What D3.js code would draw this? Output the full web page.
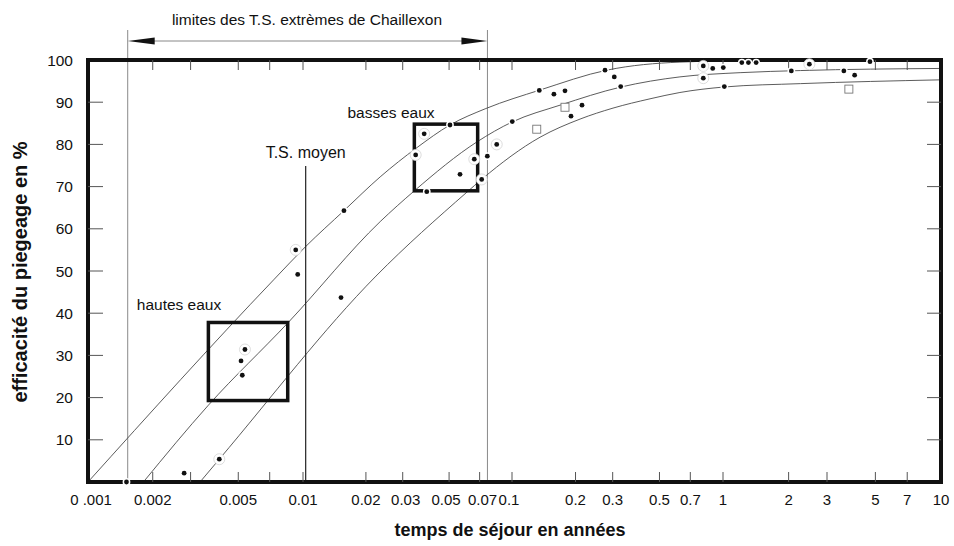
<!DOCTYPE html>
<html>
<head>
<meta charset="utf-8">
<script src="https://cdn.jsdelivr.net/npm/d3@7"></script>
<style>
  body { margin: 0; background: #fff; }
  svg text { font-family: "Liberation Sans", Arial, Helvetica, sans-serif; fill: #111; }
</style>
</head>
<body>
<div id="chart"></div>
<script>
// ---- data ----
const xTicks  = [0.001, 0.002, 0.003, 0.005, 0.007, 0.01, 0.02, 0.03, 0.05, 0.07, 0.1, 0.2, 0.3, 0.5, 0.7, 1, 2, 3, 5, 7, 10];
const xLabels = ["0 .001", "0.002", "", "0.005", "", "0.01", "0.02", "0.03", "0.05", "0.07", "0.1", "0.2", "0.3", "0.5", "0.7", "1", "2", "3", "5", "7", "10"];
const yTicks  = [10, 20, 30, 40, 50, 60, 70, 80, 90, 100];

// envelope curves (temps de séjour, % piégé)
const upperX  = [0.001, 0.0073, 0.0103, 0.0157, 0.0234, 0.035, 0.0505, 0.075, 0.136, 0.282, 0.625, 1.48, 10];
const upperY  = [0, 47.9, 55.8, 64.3, 72.3, 79.2, 84.6, 88.5, 92.9, 97.6, 99.5, 99.9, 100];
const middleX = [0.00181, 0.00363, 0.00854, 0.0234, 0.0341, 0.068, 0.1, 0.169, 0.3286, 0.625, 1.198, 2.264, 10];
const middleY = [0, 18.2, 37.8, 61.7, 69.0, 80.6, 85.3, 89.3, 93.6, 96.0, 97.0, 97.5, 98.0];
const lowerX  = [0.00332, 0.00408, 0.02235, 0.0609, 0.0719, 0.1358, 0.2101, 0.3011, 0.4508, 0.625, 1.011, 2.264, 10];
const lowerY  = [0, 5.4, 48.8, 68.7, 71.8, 81.7, 86.0, 88.6, 90.8, 92.3, 93.6, 94.4, 95.3];

// measured points
const dotX = [0.00151, 0.0028, 0.00408, 0.00537, 0.00515, 0.00522, 0.0152, 0.0157, 0.00925, 0.00945,
              0.038, 0.0505, 0.0346, 0.066, 0.0564, 0.0391, 0.0716, 0.0762, 0.0845, 0.1003,
              0.1347, 0.158, 0.1783, 0.2147, 0.1904, 0.2759, 0.3053, 0.3275,
              0.8065, 0.894, 1.003, 0.8065, 1.22, 1.308, 1.419, 1.014, 2.058, 2.49, 3.584, 4.016, 4.722];
const dotY = [0, 2.1, 5.4, 31.4, 28.7, 25.3, 43.7, 64.3, 55.0, 49.2,
              82.5, 84.6, 77.5, 76.5, 72.9, 68.8, 71.7, 77.2, 80.0, 85.4,
              92.8, 91.9, 92.7, 89.3, 86.7, 97.6, 96.0, 93.7,
              98.6, 98.0, 98.2, 95.7, 99.4, 99.4, 99.4, 93.7, 97.4, 99.0, 97.4, 96.4, 99.6];
const dotRing = [0, 0, 1, 1, 0, 0, 0, 0, 1, 0,
                 1, 0, 1, 1, 0, 0, 1, 0, 1, 0,
                 0, 0, 0, 0, 0, 0, 0, 0,
                 1, 0, 0, 1, 0, 0, 0, 0, 0, 1, 0, 0, 0];
const squareX = [0.131, 0.1783, 3.779];
const squareY = [83.6, 88.8, 93.1];

// hautes / basses eaux boxes: [x0, x1, y0, y1]
const hautesBox = [0.00363, 0.00849, 19.3, 37.8];
const bassesBox = [0.0341, 0.0685, 69.0, 84.8];
const limitesTS = [0.00153, 0.0763];
const tsMoyen = 0.0103;

// ---- drawing ----
const W = 954, H = 546;
const svg = d3.select("#chart").append("svg")
  .attr("width", W).attr("height", H);

// hand drawn decades are not all the same width, so piecewise log scale
const x = d3.scaleLog()
  .domain([0.001, 0.01, 0.1, 1, 10])
  .range([88, 303, 512, 723, 941]);
const y = d3.scaleLinear().domain([0, 100]).range([482, 60]);

// limits of extreme T.S.
limitesTS.forEach(v => {
  svg.append("line")
    .attr("x1", x(v)).attr("x2", x(v))
    .attr("y1", 30).attr("y2", y(0))
    .attr("stroke", "#8a8a8a").attr("stroke-width", 1);
});
svg.append("line")
  .attr("x1", x(limitesTS[0]) + 20).attr("x2", x(limitesTS[1]) - 20)
  .attr("y1", 41).attr("y2", 41)
  .attr("stroke", "#888").attr("stroke-width", 1);
svg.append("path")
  .attr("d", `M${x(limitesTS[0])},41 L${x(limitesTS[0]) + 27},37.5 L${x(limitesTS[0]) + 27},44.5 Z`)
  .attr("fill", "#111");
svg.append("path")
  .attr("d", `M${x(limitesTS[1])},41 L${x(limitesTS[1]) - 26},37.5 L${x(limitesTS[1]) - 26},44.5 Z`)
  .attr("fill", "#111");
svg.append("text")
  .attr("x", 307).attr("y", 25)
  .attr("text-anchor", "middle")
  .style("font-size", "15.5px")
  .text("limites des T.S. extrèmes de Chaillexon");

// curves
const line = d3.line()
  .x(d => x(d[0])).y(d => y(d[1]))
  .curve(d3.curveMonotoneX);
[[upperX, upperY], [middleX, middleY], [lowerX, lowerY]].forEach(([xs, ys]) => {
  svg.append("path")
    .attr("d", line(xs.map((v, i) => [v, ys[i]])))
    .attr("fill", "none")
    .attr("stroke", "#4a4a4a")
    .attr("stroke-width", 0.9);
});

// T.S. moyen
svg.append("line")
  .attr("x1", x(tsMoyen)).attr("x2", x(tsMoyen))
  .attr("y1", 166).attr("y2", y(0))
  .attr("stroke", "#222").attr("stroke-width", 1.2);
svg.append("text")
  .attr("x", x(tsMoyen)).attr("y", 158)
  .attr("text-anchor", "middle")
  .style("font-size", "16px")
  .text("T.S. moyen");

// boxes
[hautesBox, bassesBox].forEach(b => {
  svg.append("rect")
    .attr("x", x(b[0])).attr("y", y(b[3]))
    .attr("width", x(b[1]) - x(b[0]))
    .attr("height", y(b[2]) - y(b[3]))
    .attr("fill", "none")
    .attr("stroke", "#111")
    .attr("stroke-width", 3.5);
});
svg.append("text")
  .attr("x", 179).attr("y", 310)
  .attr("text-anchor", "middle")
  .style("font-size", "15.5px")
  .text("hautes eaux");
svg.append("text")
  .attr("x", 391).attr("y", 118)
  .attr("text-anchor", "middle")
  .style("font-size", "15.5px")
  .text("basses eaux");

// frame
svg.append("rect")
  .attr("x", x(0.001)).attr("y", y(100))
  .attr("width", x(10) - x(0.001))
  .attr("height", y(0) - y(100))
  .attr("fill", "none")
  .attr("stroke", "#111")
  .attr("stroke-width", 4);

// x ticks (bottom and top) and labels
xTicks.forEach((v, i) => {
  if (i === 0 || i === xTicks.length - 1) return;
  svg.append("line")
    .attr("x1", x(v)).attr("x2", x(v))
    .attr("y1", y(0)).attr("y2", y(0) - 10)
    .attr("stroke", "#555").attr("stroke-width", 1);
  svg.append("line")
    .attr("x1", x(v)).attr("x2", x(v))
    .attr("y1", y(100)).attr("y2", y(100) + 10)
    .attr("stroke", "#555").attr("stroke-width", 1);
});
// small nudges where the crowded labels were shifted by hand
const nudge = { "0 .001": 3, "0.03": 3, "0.05": -3, "0.07": 3, "0.1": -3 };
svg.selectAll(".xlab")
  .data(xTicks.map((v, i) => [v, xLabels[i]]).filter(d => d[1] !== ""))
  .join("text")
  .attr("x", d => x(d[0]) + (nudge[d[1]] || 0))
  .attr("y", 505)
  .attr("text-anchor", "middle")
  .style("font-size", "15px")
  .text(d => d[1]);

// y ticks (left and right) and labels
yTicks.forEach(v => {
  if (v === 100) return;
  svg.append("line")
    .attr("x1", x(0.001)).attr("x2", x(0.001) + 15)
    .attr("y1", y(v)).attr("y2", y(v))
    .attr("stroke", "#555").attr("stroke-width", 1);
  svg.append("line")
    .attr("x1", x(10)).attr("x2", x(10) - 14)
    .attr("y1", y(v)).attr("y2", y(v))
    .attr("stroke", "#555").attr("stroke-width", 1);
});
svg.selectAll(".ylab")
  .data(yTicks)
  .join("text")
  .attr("x", 73)
  .attr("y", d => y(d))
  .attr("dy", "0.36em")
  .attr("text-anchor", "end")
  .style("font-size", "15.5px")
  .text(d => d);

// points: black dot with white halo
const pts = dotX.map((v, i) => ({ x: v, y: dotY[i], ring: dotRing[i] }));
svg.selectAll(".ring")
  .data(pts.filter(d => d.ring))
  .join("circle")
  .attr("cx", d => x(d.x)).attr("cy", d => y(d.y))
  .attr("r", 5.5)
  .attr("fill", "#fff")
  .attr("stroke", "#d4d4d4")
  .attr("stroke-width", 0.8);
svg.selectAll(".dot")
  .data(pts)
  .join("circle")
  .attr("cx", d => x(d.x)).attr("cy", d => y(d.y))
  .attr("r", 2.4)
  .attr("fill", "#111")
  .attr("stroke", "#fff")
  .attr("stroke-width", 3)
  .attr("paint-order", "stroke");

svg.selectAll(".sq")
  .data(squareX.map((v, i) => [v, squareY[i]]))
  .join("rect")
  .attr("x", d => x(d[0]) - 4).attr("y", d => y(d[1]) - 4)
  .attr("width", 8).attr("height", 8)
  .attr("fill", "#fff")
  .attr("stroke", "#777")
  .attr("stroke-width", 0.9);

// axis titles
svg.append("text")
  .attr("x", 510).attr("y", 536)
  .attr("text-anchor", "middle")
  .style("font-size", "18px")
  .style("font-weight", "bold")
  .text("temps de séjour en années");
svg.append("text")
  .attr("transform", "translate(27,272) rotate(-90)")
  .attr("text-anchor", "middle")
  .style("font-size", "20px")
  .style("font-weight", "bold")
  .text("efficacité du piegeage en %");
</script>
</body>
</html>
